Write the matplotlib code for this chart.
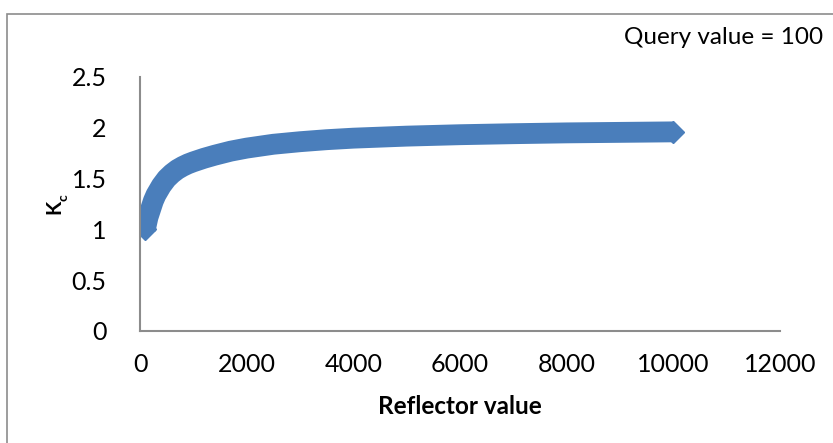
import matplotlib.pyplot as plt
from matplotlib.patches import Rectangle

# reflector value vs. K_c for a query value of 100
reflector = [100, 150, 200, 250, 300, 400, 500, 600, 700, 800, 900, 1000, 1200,
             1400, 1700, 2000, 2500, 3000, 3500, 4000, 5000, 6000, 7000, 8000,
             9000, 10000]
kc = [1.0, 1.12, 1.2, 1.28, 1.34, 1.43, 1.5, 1.55, 1.59, 1.62, 1.645, 1.665, 1.7,
      1.73, 1.77, 1.8, 1.838, 1.863, 1.883, 1.898, 1.918, 1.932, 1.942, 1.95,
      1.955, 1.96]

xticks = [0, 2000, 4000, 6000, 8000, 10000, 12000]
yticks = [0, 0.5, 1, 1.5, 2, 2.5]
ytick_labels = ['0', '0.5', '1', '1.5', '2', '2.5']

blue = '#4a7ebb'
grey = '#8c8c8c'

plt.rcParams['font.family'] = ['Lato', 'DejaVu Sans']

fig = plt.figure(figsize=(8.33, 4.43), dpi=100)
ax = fig.add_axes([140 / 833, 112 / 443, 640 / 833, 254 / 443])

ax.plot(reflector, kc, color=blue, lw=15, solid_capstyle='butt',
        solid_joinstyle='round', marker='D', markevery=[0, -1],
        ms=11, mec=blue, mfc=blue)

ax.set_xlim(0, 12000)
ax.set_ylim(0, 2.5)
ax.set_xticks(xticks)
ax.set_xticklabels([str(t) for t in xticks])
ax.set_yticks(yticks)
ax.set_yticklabels(ytick_labels)
ax.tick_params(length=0, labelsize=18, colors='black')
ax.tick_params(axis='x', pad=16)
ax.tick_params(axis='y', pad=24)

for side in ('top', 'right'):
    ax.spines[side].set_visible(False)
for side in ('left', 'bottom'):
    ax.spines[side].set_color(grey)
    ax.spines[side].set_linewidth(1.5)

fig.text(460 / 833, 1 - 407 / 443, 'Reflector value', ha='center', va='center',
         fontsize=17.5, fontweight='bold')
# K with subscript c, rotated
fig.text(54 / 833, 1 - 207 / 443, 'K', ha='center', va='center',
         rotation=90, fontsize=15, fontweight='bold')
fig.text(63 / 833, 1 - 198 / 443, 'c', ha='center', va='center',
         rotation=90, fontsize=10, fontweight='bold')
fig.text(823 / 833, 1 - 37 / 443, 'Query value = 100', ha='right', va='center',
         fontsize=17.5)

# chart area border
fig.patches.append(Rectangle((7 / 833, -0.05), 1.0, 1 - 14 / 443 + 0.05,
                             transform=fig.transFigure, fill=False,
                             edgecolor=grey, lw=1.2))

fig.savefig('out.png', dpi=100)
